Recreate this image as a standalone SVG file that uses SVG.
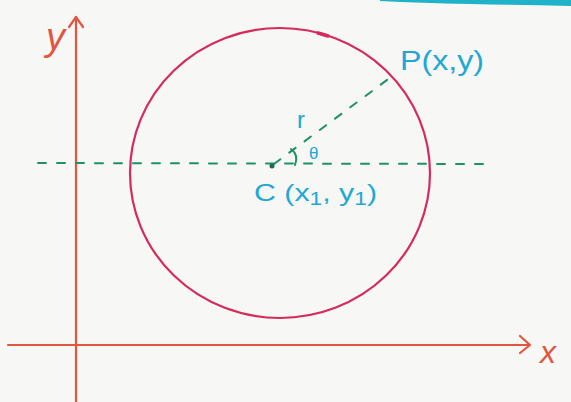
<svg xmlns="http://www.w3.org/2000/svg" width="571" height="402" viewBox="0 0 571 402">
  <style>
    .axis{stroke:#e2553f;stroke-width:2.2;fill:none;stroke-linecap:round;stroke-linejoin:round}
    .circ{stroke:#d42a5c;stroke-width:2.2;fill:none}
    .dash{stroke:#1f8f6c;stroke-width:2;fill:none;stroke-dasharray:8 11;stroke-linecap:round}
    .lbl{fill:#1ea8d2;font-family:"Liberation Sans",Arial,sans-serif}
    .axl{fill:#e2553f;font-family:"Liberation Sans",Arial,sans-serif;font-style:italic}
  </style>
  <rect width="571" height="402" fill="#f7f7f5"/>
  <path d="M380 0 L571 0 L571 6 Q520 5 470 4 Q420 3 380 1 Z" fill="#1fb2c8"/>
  <g id="axes">
    <path class="axis" d="M76 402 L76 18"/>
    <path class="axis" d="M69 27 L76 17 L83 27"/>
    <path class="axis" d="M8 345 L529 345"/>
    <path class="axis" d="M520 336 L530 345 L520 353"/>
    <text class="axl" x="46" y="50" font-size="38">y</text>
    <text class="axl" x="540" y="363" font-size="32">x</text>
  </g>
  <g id="circle">
    <ellipse class="circ" cx="280" cy="173" rx="150" ry="145"/>
    <path d="M318 33 L328 36" stroke="#d42a5c" stroke-width="3.5" stroke-linecap="round"/>
  </g>
  <g id="connectors">
    <path class="dash" d="M38 163 L492 164"/>
    <path class="dash" d="M274 164 L391 77"/>
    <path d="M291 149 Q299 155 295 165" stroke="#1f8f6c" stroke-width="2" fill="none" stroke-linecap="round"/>
  </g>
  <g id="center">
    <circle cx="272" cy="166" r="2.5" fill="#1b6e55"/>
    <text class="lbl" x="254" y="201" font-size="24" textLength="123" lengthAdjust="spacingAndGlyphs">C (x<tspan font-size="18" dy="4">1</tspan><tspan dy="-4">, y</tspan><tspan font-size="18" dy="4">1</tspan><tspan dy="-4">)</tspan></text>
  </g>
  <g id="point">
    <text class="lbl" x="400" y="70" font-size="27" textLength="84" lengthAdjust="spacingAndGlyphs">P(x,y)</text>
  </g>
  <g id="labels">
    <text class="lbl" x="297" y="128" font-size="24">r</text>
    <text class="lbl" x="309" y="159" font-size="17">θ</text>
  </g>
</svg>
